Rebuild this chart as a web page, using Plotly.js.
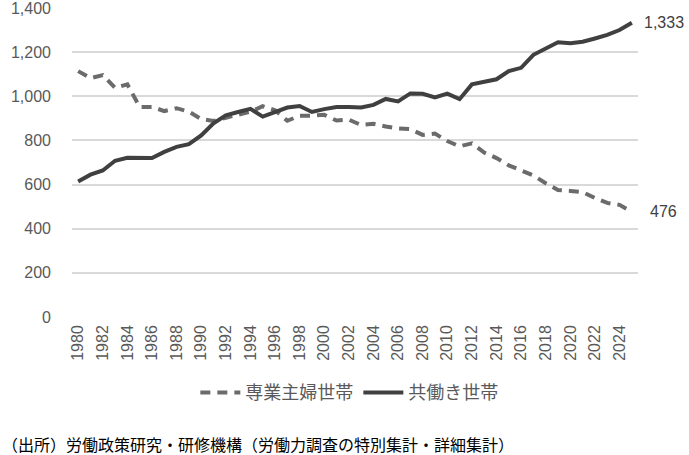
<!DOCTYPE html>
<html>
<head>
<meta charset="utf-8">
<script src="https://cdn.plot.ly/plotly-3.0.1.min.js"></script>
<style>
  body { margin: 0; background: #fff; }
  #chart { width: 689px; height: 455px; }
</style>
</head>
<body>
<div id="chart"></div>
<script>
// 単位：万世帯
let years = [1980, 1981, 1982, 1983, 1984, 1985, 1986, 1987, 1988, 1989,
  1990, 1991, 1992, 1993, 1994, 1995, 1996, 1997, 1998, 1999,
  2000, 2001, 2002, 2003, 2004, 2005, 2006, 2007, 2008, 2009,
  2010, 2011, 2012, 2013, 2014, 2015, 2016, 2017, 2018, 2019,
  2020, 2021, 2022, 2023, 2024, 2025];

let housewife = [1114, 1082, 1096, 1038, 1054, 952, 952, 933, 946, 930,
  897, 888, 903, 915, 930, 955, 937, 889, 912, 912,
  916, 890, 894, 870, 875, 863, 854, 851, 825, 831,
  797, 773, 787, 745, 720, 687, 664, 641, 606, 575,
  571, 566, 539, 517, 508, 476];

let dualIncome = [614, 645, 664, 708, 721, 722, 720, 748, 771, 783,
  823, 877, 914, 929, 943, 908, 927, 949, 956, 929,
  942, 951, 951, 949, 961, 988, 977, 1013, 1011, 995,
  1012, 987, 1054, 1065, 1077, 1114, 1129, 1188, 1219, 1245,
  1240, 1247, 1262, 1278, 1300, 1333];

let tickYears = years.filter(y => y % 2 === 0 && y <= 2024);
let yTicks = [0, 200, 400, 600, 800, 1000, 1200, 1400];

function fmt(v) {
  return v.toLocaleString('en-US');
}

function draw() {
  let font = 'Liberation Sans, Arial, Noto Sans CJK JP, sans-serif';
  let jpFont = 'Noto Sans CJK JP, sans-serif';
  let last = years.length - 1;
  let xLo = years[0] - 0.5;
  let xHi = years[last] + 0.5;

  let data = [
    {
      x: years, y: housewife, mode: 'lines', name: '専業主婦世帯',
      line: {color: '#6b6b6b', width: 4, dash: '10px,7px'}
    },
    {
      x: years, y: dualIncome, mode: 'lines', name: '共働き世帯',
      line: {color: '#404040', width: 4}
    }
  ];

  let layout = {
    width: 689, height: 455,
    margin: {l: 72, r: 51, t: 8, b: 138},
    paper_bgcolor: 'white', plot_bgcolor: 'white',
    font: {family: font, color: '#595959', size: 16},
    showlegend: true,
    legend: {
      orientation: 'h', x: 0.49, y: -0.245, xanchor: 'center', yanchor: 'middle',
      font: {family: jpFont, size: 18, color: '#595959'},
      itemwidth: 40, tracegroupgap: 0
    },
    xaxis: {
      range: [xLo, xHi],
      tickmode: 'array', tickvals: tickYears, ticktext: tickYears.map(String),
      tickangle: -90, tickfont: {size: 16, color: '#595959'},
      ticklabelstandoff: 4,
      showgrid: false, zeroline: false, showline: false,
      fixedrange: true
    },
    yaxis: {
      range: [0, 1400],
      tickmode: 'array', tickvals: yTicks, ticktext: yTicks.map(fmt),
      tickfont: {size: 16, color: '#595959'},
      ticklabelstandoff: 20, ticklabeloverflow: 'allow',
      showgrid: true, gridcolor: '#d9d9d9', gridwidth: 1.5,
      zeroline: false, showline: false,
      fixedrange: true
    },
    annotations: [
      {
        x: years[last], y: dualIncome[last], xref: 'x', yref: 'y',
        text: fmt(dualIncome[last]), showarrow: false,
        xanchor: 'left', yanchor: 'middle', xshift: 10,
        font: {family: font, size: 16, color: '#404040'}
      },
      {
        x: years[last], y: housewife[last], xref: 'x', yref: 'y',
        text: fmt(housewife[last]), showarrow: false,
        xanchor: 'left', yanchor: 'middle', xshift: 16,
        font: {family: font, size: 16, color: '#404040'}
      },
      {
        x: -72 / 566, y: -0.41, xref: 'paper', yref: 'paper',
        text: '（出所）労働政策研究・研修機構（労働力調査の特別集計・詳細集計）',
        showarrow: false, xanchor: 'left', yanchor: 'middle',
        font: {family: jpFont, size: 16, color: '#000'}
      }
    ]
  };

  Plotly.newPlot('chart', data, layout, {displayModeBar: false});
}

draw();
</script>
</body>
</html>
